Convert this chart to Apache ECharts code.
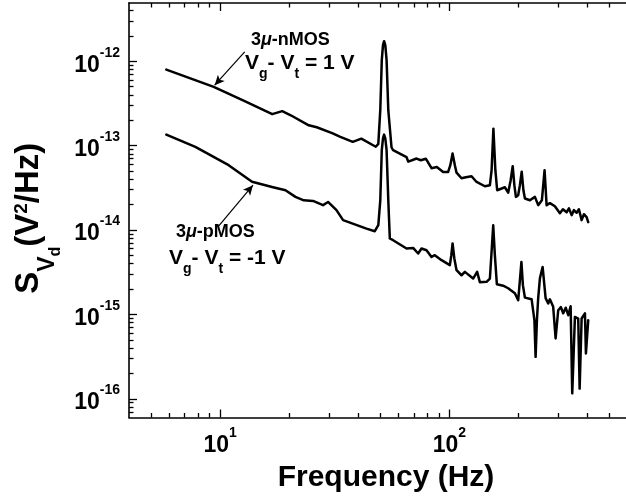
<!DOCTYPE html>
<html><head><meta charset="utf-8">
<script src="https://cdn.jsdelivr.net/npm/echarts@6/dist/echarts.min.js"></script>
<style>html,body{margin:0;padding:0;background:#fff}#c{width:626px;height:501px}</style>
</head><body><div id="c"></div>
<script>
// ---- data ----
const nmosFreq = [5.82, 9.37, 12.79, 16.87, 18.65, 20.32, 24.35, 26.39, 30.99, 33.25, 37.90, 41.28, 47.75, 48.98, 49.96, 50.72, 51.34, 51.91, 52.54, 53.23, 54.15, 55.92, 56.83, 65.04, 66.22, 71.92, 75.08, 78.95, 83.60, 88.18, 93.95, 98.81, 101.0, 103.3, 105.7, 107.5, 113.0, 118.1, 125.0, 131.5, 142.9, 150.3, 152.9, 155.7, 158.8, 161.7, 174.7, 180.6, 185.2, 189.0, 192.2, 195.2, 199.7, 203.2, 206.9, 210.5, 213.7, 224.7, 236.3, 244.2, 253.4, 260.4, 265.7, 274.7, 288.8, 303.7, 313.0, 324.9, 332.5, 341.7, 349.7, 359.3, 367.7, 377.8, 386.6, 397.2, 403.7];
const nmosPsd = [7.97e-13, 4.96e-13, 3.36e-13, 2.36e-13, 2.56e-13, 2.29e-13, 1.74e-13, 1.65e-13, 1.40e-13, 1.28e-13, 1.11e-13, 1.21e-13, 9.70e-14, 1.05e-13, 2.63e-13, 1.03e-12, 1.55e-12, 1.73e-12, 1.55e-12, 1.03e-12, 2.63e-13, 9.57e-14, 8.82e-14, 7.29e-14, 6.45e-14, 7.03e-14, 6.71e-14, 7.00e-14, 5.40e-14, 5.59e-14, 4.88e-14, 4.88e-14, 5.86e-14, 8.06e-14, 5.86e-14, 4.78e-14, 4.11e-14, 4.22e-14, 4.34e-14, 3.71e-14, 3.30e-14, 3.40e-14, 5.11e-14, 1.59e-13, 5.11e-14, 2.96e-14, 3.21e-14, 2.77e-14, 3.89e-14, 5.70e-14, 3.40e-14, 2.47e-14, 2.58e-14, 3.40e-14, 4.91e-14, 2.96e-14, 2.36e-14, 2.25e-14, 2.47e-14, 1.97e-14, 2.25e-14, 5.11e-14, 1.97e-14, 2.08e-14, 1.91e-14, 1.58e-14, 1.76e-14, 1.62e-14, 1.81e-14, 1.50e-14, 1.72e-14, 1.60e-14, 1.76e-14, 1.31e-14, 1.54e-14, 1.42e-14, 1.24e-14];

const pmosFreq = [5.82, 7.79, 10.89, 13.77, 16.84, 19.27, 21.30, 23.15, 25.42, 28.11, 29.56, 32.17, 34.38, 43.49, 47.28, 48.98, 49.96, 50.72, 51.34, 51.91, 52.54, 53.23, 54.15, 54.98, 56.83, 65.04, 69.49, 73.08, 75.61, 79.51, 83.60, 86.43, 92.46, 100.5, 102.0, 103.3, 105.1, 107.5, 113.0, 116.9, 127.0, 132.2, 135.9, 145.4, 150.3, 153.0, 155.4, 158.0, 161.2, 171.8, 180.6, 193.2, 199.7, 203.2, 206.3, 209.4, 213.7, 228.6, 235.1, 237.9, 241.1, 244.2, 248.5, 255.3, 258.7, 263.1, 270.0, 274.7, 283.9, 290.9, 298.6, 306.8, 314.0, 322.0, 330.2, 338.3, 343.8, 353.2, 365.1, 370.3, 377.8, 390.6, 394.5, 403.7];
const pmosPsd = [1.35e-13, 9.65e-14, 5.86e-14, 3.73e-14, 3.24e-14, 2.96e-14, 2.47e-14, 2.25e-14, 2.21e-14, 1.97e-14, 2.15e-14, 1.72e-14, 1.31e-14, 1.04e-14, 9.68e-15, 1.14e-14, 2.25e-14, 8.82e-14, 1.22e-13, 1.35e-13, 1.22e-13, 8.82e-14, 2.25e-14, 7.93e-15, 7.57e-15, 6.04e-15, 6.14e-15, 5.27e-15, 6.04e-15, 5.76e-15, 4.80e-15, 5.03e-15, 4.39e-15, 3.83e-15, 5.03e-15, 6.92e-15, 4.63e-15, 3.34e-15, 2.91e-15, 3.19e-15, 2.66e-15, 3.19e-15, 2.41e-15, 2.43e-15, 2.66e-15, 5.76e-15, 1.14e-14, 5.03e-15, 2.28e-15, 2.19e-15, 2.04e-15, 1.78e-15, 1.47e-15, 2.54e-15, 4.19e-15, 2.22e-15, 1.58e-15, 1.51e-15, 8.54e-16, 3.14e-16, 8.54e-16, 1.56e-15, 2.69e-15, 3.65e-15, 3.50e-15, 1.56e-15, 1.35e-15, 1.51e-15, 1.23e-15, 5.18e-16, 1.12e-15, 1.22e-15, 1.03e-15, 1.20e-15, 9.78e-16, 1.25e-15, 1.16e-16, 9.34e-16, 8.94e-16, 1.32e-16, 8.94e-16, 1.03e-15, 3.44e-16, 8.54e-16];

const xMajorTicks = [10, 100];
const xTickExponents = ['1', '2'];
const xMinorTicks = [5, 6, 7, 8, 9, 20, 30, 40, 50, 60, 70, 80, 90, 200, 300, 400, 500, 600];
const yMajorTicks = [1e-16, 1e-15, 1e-14, 1e-13, 1e-12];
const yTickExponents = ['-16', '-15', '-14', '-13', '-12'];
const yMinorTicks = [7e-17, 8e-17, 9e-17,
  2e-16, 3e-16, 4e-16, 5e-16, 6e-16, 7e-16, 8e-16, 9e-16,
  2e-15, 3e-15, 4e-15, 5e-15, 6e-15, 7e-15, 8e-15, 9e-15,
  2e-14, 3e-14, 4e-14, 5e-14, 6e-14, 7e-14, 8e-14, 9e-14,
  2e-13, 3e-13, 4e-13, 5e-13, 6e-13, 7e-13, 8e-13, 9e-13,
  2e-12, 3e-12, 4e-12];

const xMin = 4, xMax = 700;
const yMin = 6e-17, yMax = 4.9e-12;

// ---- chart ----
const FONT = 'Arial, "Liberation Sans", Helvetica, sans-serif';
const BLACK = '#000';
const chart = echarts.init(document.getElementById('c'), null, {renderer: 'canvas'});

function findIdx(ticks, v) {
  return ticks.findIndex(t => Math.abs(Math.log10(t) - Math.log10(v)) < 1e-6);
}
const tickRich = {
  b: {fontFamily: FONT, fontWeight: 'bold', fontSize: 23, lineHeight: 31, color: BLACK, verticalAlign: 'bottom'},
  s: {fontFamily: FONT, fontWeight: 'bold', fontSize: 14, lineHeight: 14, color: BLACK, verticalAlign: 'top'}
};
function logAxis(kind, pos, major, extra) {
  const isX = kind === 'x';
  const ax = {
    type: 'log', logBase: 10,
    min: isX ? xMin : yMin, max: isX ? xMax : yMax,
    position: pos,
    axisLine: {show: major, onZero: false, lineStyle: {color: BLACK, width: 1.6}},
    axisTick: {show: true, inside: true, length: major ? 8 : 4.5,
      lineStyle: {color: BLACK, width: 1.3},
      customValues: major ? (isX ? xMajorTicks : yMajorTicks) : (isX ? xMinorTicks : yMinorTicks)},
    axisLabel: {show: false},
    splitLine: {show: false},
    minorTick: {show: false},
    minorSplitLine: {show: false}
  };
  return Object.assign(ax, extra || {});
}

const option = {
  animation: false,
  backgroundColor: '#fff',
  grid: {left: 129, top: 3, width: 514, height: 414.5, containLabel: false, outerBoundsMode: 'none'},
  xAxis: [
    logAxis('x', 'bottom', true, {
      axisLabel: {show: true, customValues: xMajorTicks, margin: 9,
        formatter: v => '{b|10}{s|' + xTickExponents[findIdx(xMajorTicks, v)] + '}', rich: tickRich},
      name: 'Frequency (Hz)', nameLocation: 'middle', nameGap: 39,
      nameTextStyle: {fontFamily: FONT, fontWeight: 'bold', fontSize: 30, color: BLACK}
    }),
    logAxis('x', 'bottom', false),
    logAxis('x', 'top', true),
    logAxis('x', 'top', false)
  ],
  yAxis: [
    logAxis('y', 'left', true, {
      axisLabel: {show: true, customValues: yMajorTicks, margin: 9,
        formatter: v => '{b|10}{s|' + yTickExponents[findIdx(yMajorTicks, v)] + '}', rich: tickRich},
      name: '{m|S}{sv|V}{sd|d}{m|(V}{sup|2}{m|/Hz)}',
      nameLocation: 'middle', nameRotate: 90, nameGap: 63,
      nameTextStyle: {fontFamily: FONT, fontWeight: 'bold', fontSize: 33, color: BLACK,
        padding: [0, 16, 0, 0],
        rich: {
          m: {fontFamily: FONT, fontWeight: 'bold', fontSize: 33, lineHeight: 33, color: BLACK, verticalAlign: 'top'},
          sv: {fontFamily: FONT, fontWeight: 'bold', fontSize: 23, lineHeight: 23, color: BLACK, verticalAlign: 'top', padding: [24, 0, 0, 0]},
          sd: {fontFamily: FONT, fontWeight: 'bold', fontSize: 16, lineHeight: 16, color: BLACK, verticalAlign: 'top', padding: [35, 0, 0, 0]},
          sup: {fontFamily: FONT, fontWeight: 'bold', fontSize: 19, lineHeight: 19, color: BLACK, verticalAlign: 'top'}
        }}
    }),
    logAxis('y', 'left', false)
  ],
  series: [
    {
      name: '3μ-nMOS', type: 'line', xAxisIndex: 0, yAxisIndex: 0,
      data: nmosFreq.map((f, i) => [f, nmosPsd[i]]),
      showSymbol: false, symbol: 'none', smooth: false,
      lineStyle: {color: BLACK, width: 2.5, join: 'round', cap: 'round'}, itemStyle: {color: BLACK},
      markLine: {
        silent: true, symbol: ['none', 'arrow'], symbolSize: [7, 10],
        lineStyle: {color: BLACK, width: 1.2, type: 'solid'}, label: {show: false},
        data: [[{coord: [12.79, 1.29e-12]}, {coord: [9.46, 5.2e-13]}]]
      }
    },
    {
      name: '3μ-pMOS', type: 'line', xAxisIndex: 0, yAxisIndex: 0,
      data: pmosFreq.map((f, i) => [f, pmosPsd[i]]),
      showSymbol: false, symbol: 'none', smooth: false,
      lineStyle: {color: BLACK, width: 2.5, join: 'round', cap: 'round'}, itemStyle: {color: BLACK},
      markLine: {
        silent: true, symbol: ['none', 'arrow'], symbolSize: [7, 10],
        lineStyle: {color: BLACK, width: 1.2, type: 'solid'}, label: {show: false},
        data: [[{coord: [9.78, 1.09e-14]}, {coord: [13.9, 3.4e-14]}]]
      }
    }
  ],
  graphic: (function () {
    const t18 = {fontFamily: FONT, fontWeight: 'bold', fontSize: 18, lineHeight: 18, fill: BLACK, color: BLACK, verticalAlign: 'top'};
    const mu = Object.assign({}, t18, {fontStyle: 'italic'});
    const v20 = {fontFamily: FONT, fontWeight: 'bold', fontSize: 21, lineHeight: 21, fill: BLACK, color: BLACK, verticalAlign: 'top'};
    const sub = {fontFamily: FONT, fontWeight: 'bold', fontSize: 14, lineHeight: 14, fill: BLACK, color: BLACK, verticalAlign: 'top', padding: [14, 0, 0, 0]};
    const rich = {n: t18, mu: mu, v: v20, sub: sub};
    function txt(x, y, text) {
      return {type: 'text', x: x, y: y, silent: true,
        style: {text: text, rich: rich, fill: BLACK, align: 'left', verticalAlign: 'top',
          font: 'bold 18px ' + FONT}};
    }
    return [
      txt(251, 31, '{n|3}{mu|μ}{n|-nMOS}'),
      txt(245, 53, '{v|V}{sub|g}{v|- V}{sub|t}{v| = 1 V}'),
      txt(176, 223, '{n|3}{mu|μ}{n|-pMOS}'),
      txt(169, 248, '{v|V}{sub|g}{v|- V}{sub|t}{v| = -1 V}')
    ];
  })()
};
chart.setOption(option);
</script>
</body></html>
